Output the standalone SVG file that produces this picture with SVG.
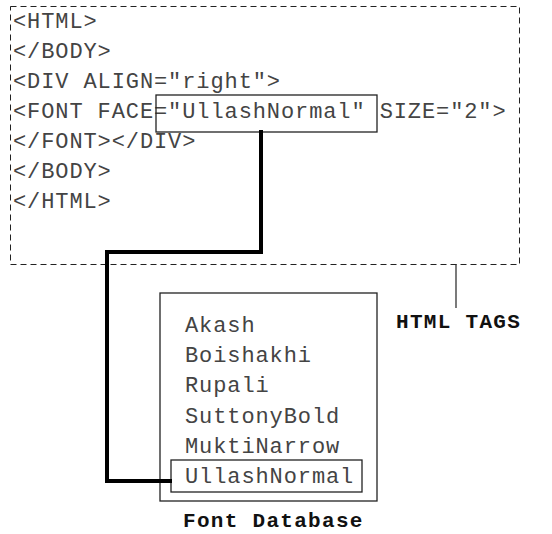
<svg xmlns="http://www.w3.org/2000/svg" width="552" height="534" viewBox="0 0 552 534">
<style>
.code{font-family:"Liberation Mono","Courier New",monospace;font-size:22px;letter-spacing:0.9px;fill:#444}
.lbl{font-family:"Liberation Mono","Courier New",monospace;font-size:21px;letter-spacing:1.3px;font-weight:bold;fill:#111}
.box{fill:none;stroke:#222;stroke-width:1.3}
</style>
<rect width="552" height="534" fill="#fff"/>
<g id="html-tags">
<rect x="10.5" y="6.5" width="509" height="258" fill="none" stroke="#222" stroke-width="1" stroke-dasharray="6,4"/>
<text class="code" x="13" y="28">&lt;HTML&gt;</text>
<text class="code" x="13" y="58">&lt;/BODY&gt;</text>
<text class="code" x="13" y="88">&lt;DIV ALIGN="right"&gt;</text>
<text class="code" x="13" y="118">&lt;FONT FACE="UllashNormal" SIZE="2"&gt;</text>
<text class="code" x="13" y="148">&lt;/FONT&gt;&lt;/DIV&gt;</text>
<text class="code" x="13" y="178">&lt;/BODY&gt;</text>
<text class="code" x="13" y="208">&lt;/HTML&gt;</text>
<rect class="box" x="156" y="95" width="221" height="37"/>
</g>
<g id="html-tags-label">
<line x1="456" y1="264" x2="456" y2="308" stroke="#222" stroke-width="1.2"/>
<text class="lbl" x="396" y="328">HTML TAGS</text>
</g>
<g id="font-database">
<rect class="box" x="160" y="293" width="217" height="208"/>
<text class="code" x="185" y="332">Akash</text>
<text class="code" x="185" y="362">Boishakhi</text>
<text class="code" x="185" y="392">Rupali</text>
<text class="code" x="185" y="423">SuttonyBold</text>
<text class="code" x="185" y="453">MuktiNarrow</text>
<rect class="box" x="171" y="460" width="191" height="32"/>
<text class="code" x="185" y="483">UllashNormal</text>
<text class="lbl" x="183" y="527">Font Database</text>
</g>
<g id="connectors">
<polyline points="261,130 261,252 107,252 107,481 172,481" fill="none" stroke="#000" stroke-width="4" stroke-linejoin="miter"/>
</g>
</svg>
